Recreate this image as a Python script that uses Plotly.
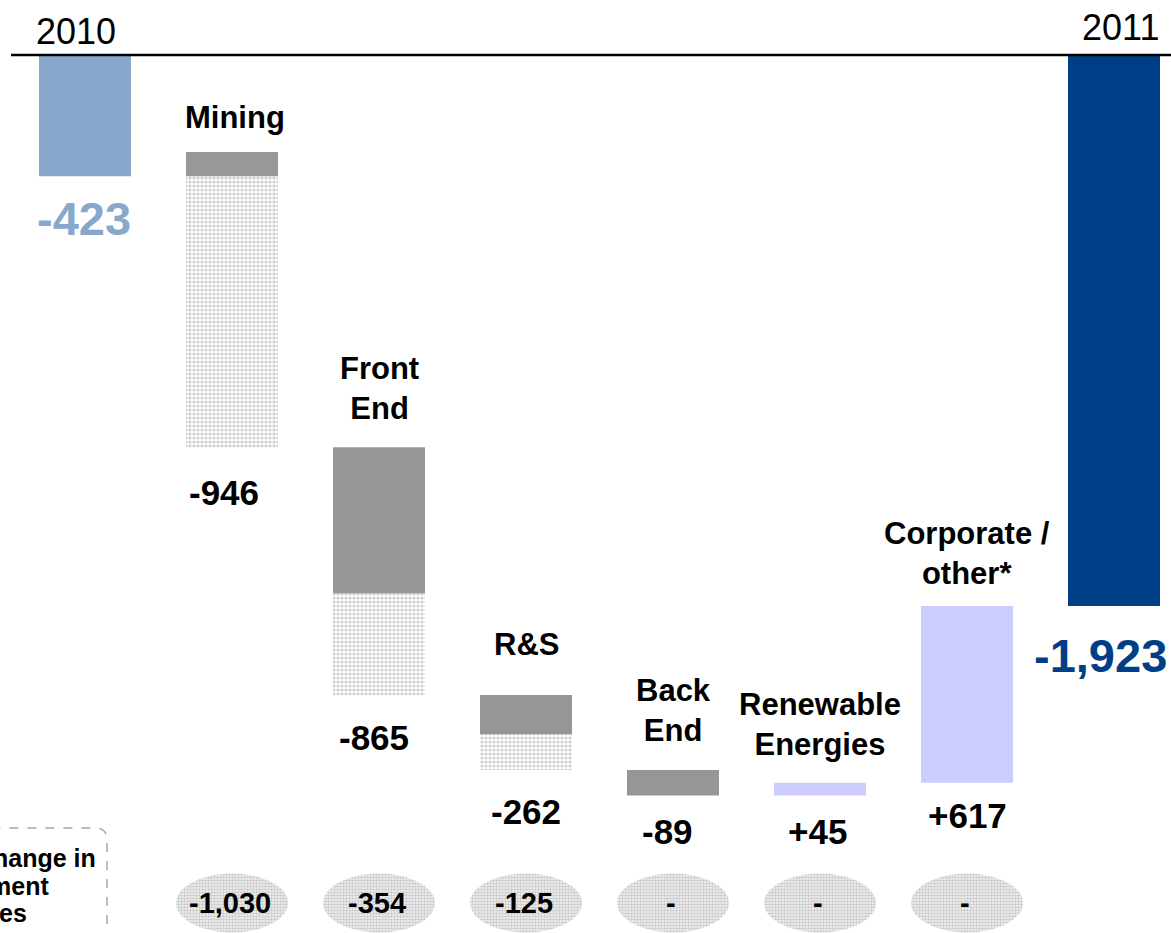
import numpy as np
import plotly.graph_objects as go

# ---- data -------------------------------------------------------------
categories = ["2010", "Mining", "Front End", "R&S", "Back End",
              "Renewable Energies", "Corporate / other*", "2011"]
segments = ["Mining", "Front End", "R&S", "Back End",
            "Renewable Energies", "Corporate / other*"]
start_value = -423          # 2010
segment_change = [-946, -865, -262, -89, 45, 617]
impairment_change = [-1030, -354, -125, 0, 0, 0]
end_value = -1923           # 2011

segment_titles = ["Mining", "Front<br>End", "R&S", "Back<br>End",
                  "Renewable<br>Energies", "Corporate /<br>other*"]
box_lines = ["Change in", "impairment", "charges"]

# ---- layout helpers (pixel grid of the 1171 x 933 canvas) -------------
W, H = 1171, 933
PX_X0, PX_STEP = 85, 147          # centre of first column, column pitch
PX_Y0, PX_PER_UNIT = 55, 0.2865   # zero line, pixels per unit


def x_at(px):
    return (px - PX_X0) / PX_STEP


def y_at(py):
    return -(py - PX_Y0) / PX_PER_UNIT


FONT = "Liberation Sans, Arial, sans-serif"
BLUE_LIGHT = "#87A8CB"
BLUE_DARK = "#003F87"
GREY = "#969696"
LAVENDER = "#CCCCFF"
BAR_W = 0.626

# running levels of the bridge
levels = [start_value]
for c in segment_change:
    levels.append(levels[-1] + c)
seg_start = levels[:-1]
seg_end = levels[1:]
operating = [c - i for c, i in zip(segment_change, impairment_change)]
seg_x = list(range(1, len(segments) + 1))
seg_colors = [GREY, GREY, GREY, GREY, LAVENDER, LAVENDER]

fig = go.Figure()

# 2010 opening bar
fig.add_bar(x=[0], y=[start_value], base=[0], width=BAR_W,
            marker=dict(color=BLUE_LIGHT, line=dict(width=0)))

# operating part of each segment
fig.add_bar(x=seg_x, y=operating, base=seg_start, width=BAR_W,
            marker=dict(color=seg_colors, line=dict(width=0)))

# impairment part (dotted)
imp_x = [x for x, v in zip(seg_x, impairment_change) if v != 0]
imp_y = [v for v in impairment_change if v != 0]
imp_base = [s + o for s, o, v in zip(seg_start, operating, impairment_change) if v != 0]
fig.add_bar(x=imp_x, y=imp_y, base=imp_base, width=BAR_W,
            marker=dict(color="rgba(255,255,255,0)", line=dict(width=0),
                        pattern=dict(shape=".", fgcolor="#9c9c9c", size=4,
                                     solidity=0.5, fillmode="overlay")))

# 2011 closing bar
fig.add_bar(x=[len(categories) - 1], y=[end_value], base=[0], width=BAR_W,
            marker=dict(color=BLUE_DARK, line=dict(width=0)))

# dotted ellipses with impairment changes
t = np.linspace(0, 2 * np.pi, 120)
ell_a = 56 / PX_STEP
ell_b = 29.5 / PX_PER_UNIT
ell_cy = y_at(903)
for x in seg_x:
    fig.add_scatter(x=x + ell_a * np.cos(t), y=ell_cy + ell_b * np.sin(t),
                    mode="lines", fill="toself",
                    line=dict(color="rgba(0,0,0,0)", width=0),
                    fillcolor="#f0f0f0",
                    fillpattern=dict(shape=".", fgcolor="#a0a0a0",
                                     bgcolor="#f4f4f4", size=3, solidity=0.55),
                    hoverinfo="skip")

annotations = []

# year captions above the zero line
annotations.append(dict(x=x_at(76), y=y_at(31), text="2010", showarrow=False,
                        font=dict(family=FONT, size=36, color="black")))
annotations.append(dict(x=x_at(1120), y=y_at(27), text="2011", showarrow=False,
                        font=dict(family=FONT, size=36, color="black")))

# totals
annotations.append(dict(x=0, y=start_value, text=f"<b>{start_value:,}</b>",
                        showarrow=False, yshift=-42, xshift=-1,
                        font=dict(family=FONT, size=47, color=BLUE_LIGHT)))
annotations.append(dict(x=len(categories) - 1, y=end_value, text=f"<b>{end_value:,}</b>",
                        showarrow=False, yshift=-50, xshift=-14,
                        font=dict(family=FONT, size=47, color=BLUE_DARK)))

# segment titles and values
title_lift = [35, 59, 51, 60, 58, 52]
value_drop = [45, 42, 41, 36, 36, 33]
value_shift = [-8, -5, 0, -6, -3, 0]
for x, name, s, e, o, v, lift, drop, xs in zip(seg_x, segment_titles, seg_start,
                                               seg_end, operating, segment_change,
                                               title_lift, value_drop, value_shift):
    top = max(s, s + o, e)
    low = min(s, s + o, e)
    annotations.append(dict(x=x, y=top, text=f"<b>{name}</b>", showarrow=False,
                            yshift=lift, xshift=3 if x == 1 else 0,
                            font=dict(family=FONT, size=31, color="black")))
    annotations.append(dict(x=x, y=low, text=f"<b>{v:+,}</b>", showarrow=False,
                            yshift=-drop, xshift=xs,
                            font=dict(family=FONT, size=35, color="black")))

# labels inside ellipses
for x, v in zip(seg_x, impairment_change):
    annotations.append(dict(x=x, y=ell_cy, text=f"<b>{v:,}</b>" if v else "<b>-</b>",
                            showarrow=False, xshift=-2,
                            font=dict(family=FONT, size=29, color="black")))

# side note box text
for line, right_px, cy_px in zip(box_lines, [98, 51, 29], [858, 886, 913]):
    annotations.append(dict(x=x_at(right_px), y=y_at(cy_px), text=f"<b>{line}</b>",
                            showarrow=False, xanchor="right",
                            font=dict(family=FONT, size=25, color="black")))

shapes = [
    # zero line
    dict(type="line", xref="x", yref="y", x0=x_at(11), x1=x_at(W + 5),
         y0=0, y1=0, line=dict(color="black", width=2.5)),
    # dashed rounded note box
    dict(type="path", xref="x", yref="y",
         path=(f"M {x_at(107)},{y_at(960)} L {x_at(107)},{y_at(840)} "
               f"Q {x_at(107)},{y_at(828)} {x_at(95)},{y_at(828)} "
               f"L {x_at(-30)},{y_at(828)}"),
         line=dict(color="#a6a6a6", width=1.5, dash="dash")),
]

fig.update_layout(
    width=W, height=H,
    margin=dict(l=0, r=0, t=0, b=0),
    paper_bgcolor="white", plot_bgcolor="white",
    barmode="overlay", showlegend=False,
    xaxis=dict(range=[x_at(0), x_at(W)], visible=False, fixedrange=True),
    yaxis=dict(range=[y_at(H), y_at(0)], visible=False, fixedrange=True),
    annotations=annotations, shapes=shapes,
)

fig.write_html("out.html")
